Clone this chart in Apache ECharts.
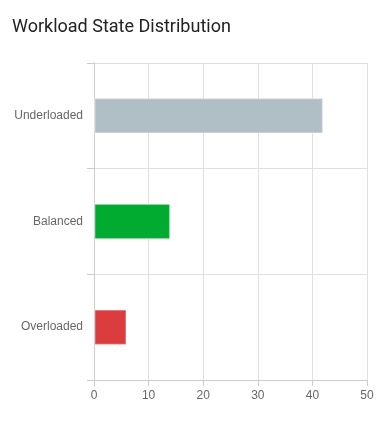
<!DOCTYPE html>
<html><head><meta charset="utf-8">
<script src="https://cdn.jsdelivr.net/npm/echarts@6/dist/echarts.min.js"></script>
<style>html,body{margin:0;padding:0;background:#fff}#c{width:392px;height:423px}</style>
</head><body><div id="c"></div>
<script>
const titleText = 'Workload State Distribution';
const categories = ['Underloaded', 'Balanced', 'Overloaded'];
const values = [42, 14, 6];
const barColors = ['#b0bec5', '#00ab30', '#db3c3e'];
const xTicks = [0, 10, 20, 30, 40, 50];

const chart = echarts.init(document.getElementById('c'), null, {renderer: 'canvas'});
chart.setOption({
  backgroundColor: '#fff',
  animation: false,
  title: {text: titleText, left: 7, top: 13, textStyle: {fontFamily: 'Roboto', fontSize: 18, fontWeight: 'normal', color: '#222'}},
  grid: {left: 94, right: 25, top: 63, bottom: 43, containLabel: false},
  xAxis: {
    type: 'value', min: xTicks[0], max: xTicks[xTicks.length-1], interval: 10,
    axisLine: {show: true, lineStyle: {color: '#ccc'}},
    axisTick: {show: true, length: 6, lineStyle: {color: '#ccc'}},
    axisLabel: {color: '#666', fontSize: 12, fontFamily: 'Liberation Sans', margin: 10},
    splitLine: {show: true, lineStyle: {color: '#e0e0e0'}}
  },
  yAxis: {
    type: 'category', data: categories, inverse: true,
    axisLine: {show: true, lineStyle: {color: '#ccc'}},
    axisTick: {show: true, length: 7, lineStyle: {color: '#ccc'}},
    axisLabel: {color: '#666', fontSize: 12, fontFamily: 'Liberation Sans', margin: 11},
    splitLine: {show: true, lineStyle: {color: '#e0e0e0'}}
  },
  series: [{
    type: 'bar', barWidth: '34%',
    data: values.map((v, i) => ({value: v, itemStyle: {color: barColors[i]}})),
    itemStyle: {borderColor: 'rgba(255,255,255,0.4)', borderWidth: 1.5}
  }]
});
</script></body></html>
